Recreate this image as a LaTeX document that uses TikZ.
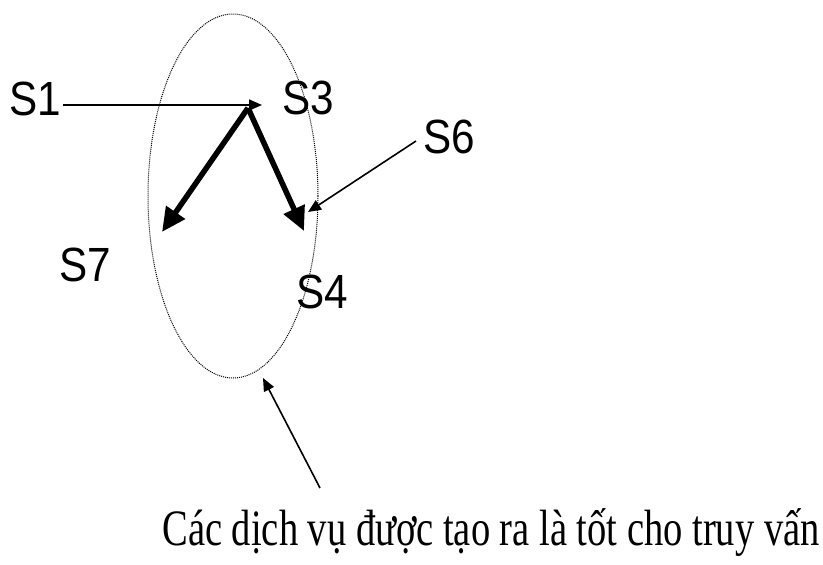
\documentclass[tikz,border=0pt]{standalone}
\usepackage{fontspec}
\setmainfont{Liberation Serif}
\newfontfamily\lblfont{Liberation Sans}
\usetikzlibrary{arrows.meta,shapes.geometric}
\begin{document}
\begin{tikzpicture}[x=1pt,y=-1pt,
  lbl/.style={font=\lblfont\fontsize{48}{50}\selectfont, inner sep=0pt, xscale=0.88},
  thin/.style={line width=1.6pt, -{Triangle[length=13pt,width=11pt]}},
  thick/.style={line width=5.5pt, -{Triangle[length=24pt,width=22pt]}},
  grpstyle/.style={draw, densely dotted, line width=1pt, ellipse, inner sep=0pt}]
\useasboundingbox (0,0) rectangle (823,565);
\node[grpstyle, minimum width=170pt, minimum height=364pt] (grp) at (233,196) {};
\node[lbl] (s1) at (35,99) {S1};
\node[lbl] (s3) at (308,98) {S3};
\node[lbl] (s6) at (449,137) {S6};
\node[lbl] (s7) at (85,265) {S7};
\node[lbl] (s4) at (322,292) {S4};
\node[font=\fontsize{51}{53}\selectfont, inner sep=0pt, xscale=0.755] (cap) at (491,533) {Các dịch vụ được tạo ra là tốt cho truy vấn};
\coordinate (hub) at (262,105);
\coordinate (src) at (248,108);
\coordinate (t7) at (162,232);
\coordinate (t4) at (304,231);
\coordinate (t6) at (308,212);
\coordinate (s6a) at (416,141);
\coordinate (ctail) at (320,488);
\coordinate (ctip) at (263,378);
\draw[thin] ([xshift=2pt]s1.east |- hub) -- (hub);
\draw[thick] (src) -- (t7);
\draw[thick] (src) -- (t4);
\draw[thin] (s6a) -- (t6);
\draw[thin] (ctail) -- (ctip);
\end{tikzpicture}
\end{document}
